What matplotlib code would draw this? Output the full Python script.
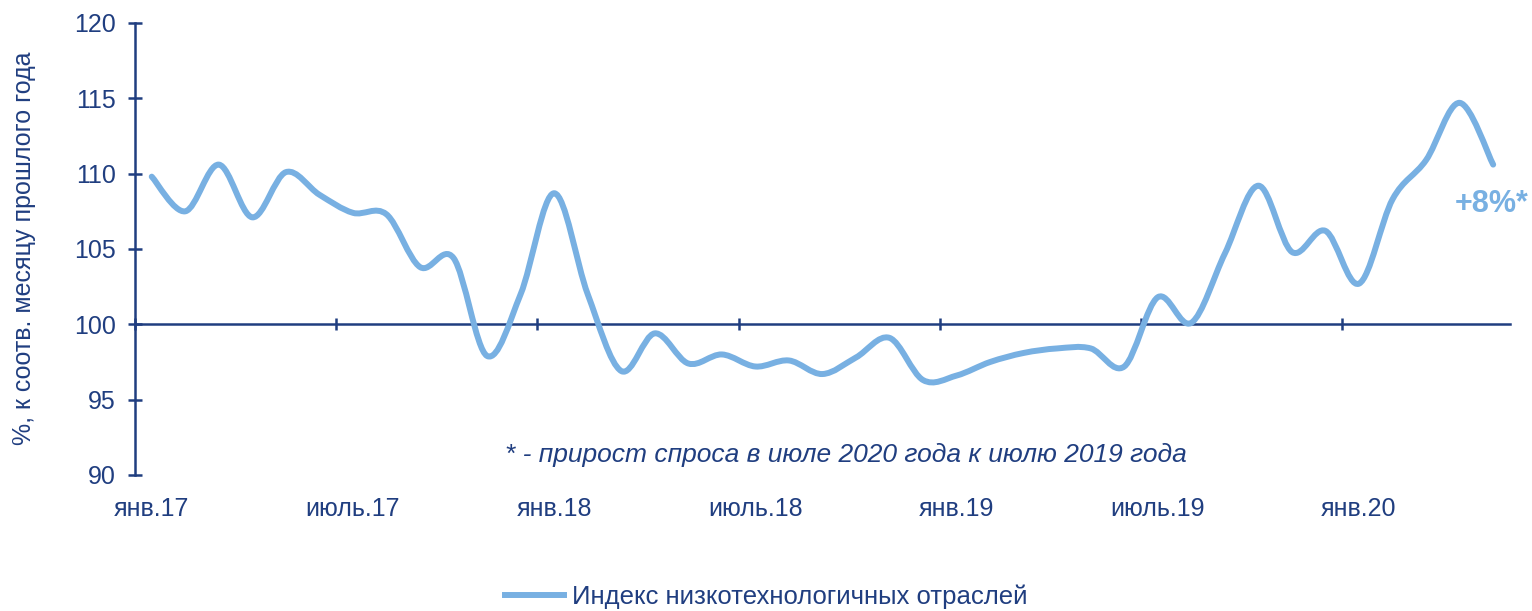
import numpy as np
import matplotlib.pyplot as plt
from matplotlib.path import Path
from matplotlib.patches import PathPatch
from matplotlib.lines import Line2D
import matplotlib.transforms as mtransforms

plt.rcParams['font.family'] = ['Liberation Sans', 'DejaVu Sans']

# помесячно, янв.17 ... май.20
index_values = [109.8, 107.5, 110.6, 107.1, 110.1, 108.6, 107.4, 107.3, 103.8, 104.4,
                97.9, 102.0, 108.7, 102.0, 96.9, 99.4, 97.4, 98.0, 97.2, 97.6,
                96.7, 97.8, 99.1, 96.3, 96.6, 97.5, 98.1, 98.4, 98.4, 97.2,
                101.8, 100.1, 104.7, 109.2, 104.8, 106.2, 102.7, 108.3, 110.9, 114.7,
                110.6]
tick_labels = ['янв.17', 'июль.17', 'янв.18', 'июль.18', 'янв.19', 'июль.19', 'янв.20']
tick_pos = [0, 6, 12, 18, 24, 30, 36]

navy = '#203E80'
blue = '#78B0E2'

fig = plt.figure(figsize=(15.32, 6.11), dpi=100)
ax = fig.add_axes([0.0881, 0.2226, 0.8975, 0.7398])

x = np.arange(len(index_values))
y = np.array(index_values)

# сглаженная линия как в Excel (Безье через точки)
pts = np.column_stack([x, y])
ext = np.vstack([pts[0], pts, pts[-1]])
verts = [tuple(pts[0])]
codes = [Path.MOVETO]
for i in range(len(pts) - 1):
    p0, p1, p2, p3 = ext[i], ext[i + 1], ext[i + 2], ext[i + 3]
    c1 = p1 + (p2 - p0) / 6
    c2 = p2 - (p3 - p1) / 6
    verts += [tuple(c1), tuple(c2), tuple(p2)]
    codes += [Path.CURVE4] * 3
ax.add_patch(PathPatch(Path(verts, codes), fill=False, edgecolor=blue, lw=4.3,
                       capstyle='round', joinstyle='round', zorder=3))

ax.set_xlim(-0.5, len(index_values) - 0.5)
ax.set_ylim(90, 120)
ax.set_yticks([90, 95, 100, 105, 110, 115, 120])

for s in ['top', 'right']:
    ax.spines[s].set_visible(False)
ax.spines['left'].set_color(navy)
ax.spines['left'].set_linewidth(1.8)
ax.spines['bottom'].set_position(('data', 100))
ax.spines['bottom'].set_color(navy)
ax.spines['bottom'].set_linewidth(1.8)
ax.spines['bottom'].set_zorder(2)

ax.tick_params(axis='y', direction='inout', length=10, width=1.8, color=navy,
               labelcolor=navy, labelsize=18, pad=9)
ax.set_xticks([p - 0.5 for p in tick_pos])
ax.tick_params(axis='x', direction='inout', length=8, width=1.8, color=navy,
               labelbottom=False)

trans = mtransforms.blended_transform_factory(ax.transData, ax.transAxes)
for p, lab in zip(tick_pos, tick_labels):
    ax.text(p, -0.075, lab, transform=trans, ha='center', va='center',
            fontsize=18, color=navy)

fig.text(24 / 1532, 1 - 248 / 611, '%, к соотв. месяцу прошлого года', rotation=90,
         ha='center', va='center', fontsize=18, color=navy)

ax.text(20.7, 91.3, '* - прирост спроса в июле 2020 года к июлю 2019 года',
        ha='center', va='center', fontsize=19, style='italic', color=navy)
ax.text(38.84, 108.0, '+8%*', ha='left', va='center', fontsize=22,
        fontweight='bold', color=blue, clip_on=False)

h = Line2D([0], [0], color=blue, lw=4.3)
fig.legend(handles=[h], labels=['Индекс низкотехнологичных отраслей'],
           loc='center', bbox_to_anchor=(0.5, 0.024), frameon=False,
           fontsize=18.5, labelcolor=navy, handlelength=2.3, handletextpad=0.3)

fig.savefig('out.png', dpi=100)
